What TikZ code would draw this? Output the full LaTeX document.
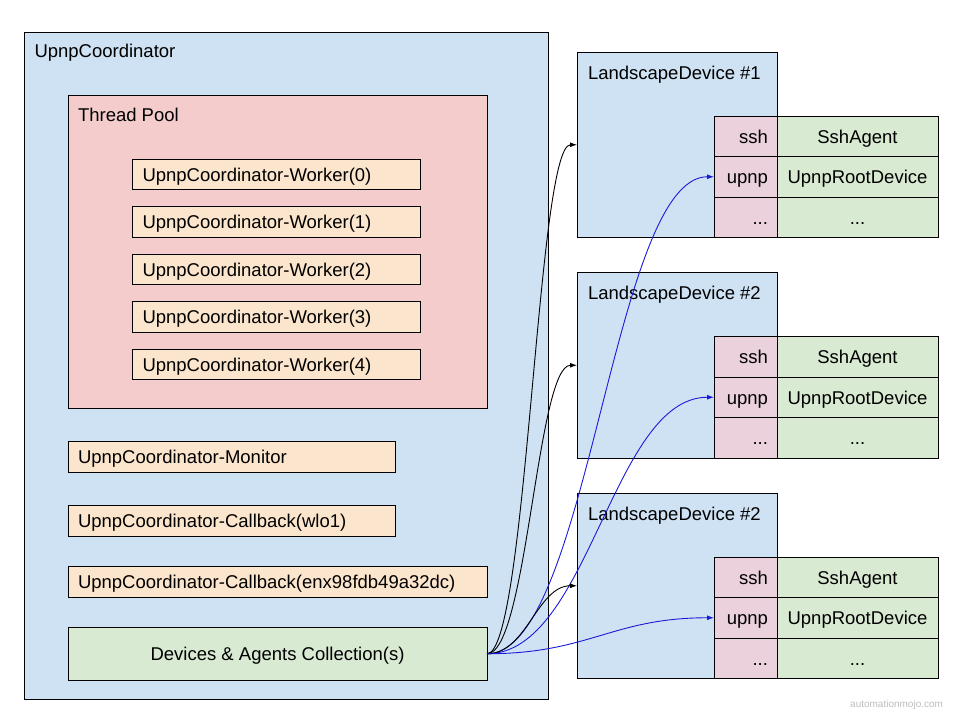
\documentclass[tikz,border=0pt]{standalone}
\usepackage{fontspec}
\setmainfont{Liberation Sans}
\usetikzlibrary{arrows.meta}
\definecolor{coordblue}{HTML}{CFE2F3}
\definecolor{poolred}{HTML}{F4CCCC}
\definecolor{threadorange}{HTML}{FCE5CD}
\definecolor{agentgreen}{HTML}{D9EAD3}
\definecolor{keypink}{HTML}{EAD1DC}
\definecolor{linkblue}{HTML}{1A1AD9}
\definecolor{markgray}{HTML}{BDBDBD}
\begin{document}
\begin{tikzpicture}[x=1pt, y=-1pt, line width=1pt,
        every node/.style={font=\fontsize{18.5}{22}\selectfont, outer sep=0pt},
        frame/.style={draw, anchor=north west, inner sep=0pt},
        title/.style={anchor=base west, inner sep=0pt},
        line/.style={text height=17pt, text depth=3pt},
        thread/.style={draw, fill=threadorange, anchor=north west, line,
            inner xsep=10pt, inner ysep=0pt, minimum height=30.5pt, align=left},
        keycell/.style={draw, fill=keypink, anchor=north west, inner xsep=9pt, line,
            inner ysep=0pt, text width=45pt, minimum height=40.5pt, align=right},
        valcell/.style={draw, fill=agentgreen, anchor=north west, inner xsep=10pt, line,
            inner ysep=0pt, text width=141pt, minimum height=40.5pt, align=center},
        link/.style={-{Latex[length=7pt,width=5pt]}, line width=0.9pt}]
    \useasboundingbox (0,0) rectangle (960,720);

    % coordinator side
    \node[frame, fill=coordblue, minimum width=524pt, minimum height=667pt] (coord) at (24,32) {};
    \node[title] (coordlbl) at (34.5,57.7) {UpnpCoordinator};
    \node[frame, fill=poolred, minimum width=419pt, minimum height=313pt] (pool) at (68,95.5) {};
    \node[title] (poollbl) at (78,121.7) {Thread Pool};
    \foreach \i in {0,...,4}
        \node[thread, text width=268pt] (worker\i) at (132.5,{159+47.5*\i}) {UpnpCoordinator-Worker(\i)};
    \node[thread, text width=307pt] (monitor) at (68,441.5) {UpnpCoordinator-Monitor};
    \node[thread, text width=307pt] (cbwlo) at (68,505.7) {UpnpCoordinator-Callback(wlo1)};
    \node[thread, text width=399pt] (cbenx) at (68,566.5) {UpnpCoordinator-Callback(enx98fdb49a32dc)};
    \node[frame, fill=agentgreen, line, minimum width=419pt, minimum height=53.5pt] (devices) at (68,627) {Devices \& Agents Collection(s)};

    % landscape devices
    \foreach \n/\top/\num in {1/52/1, 2/272.5/2, 3/493/2} {
        \node[frame, fill=coordblue, minimum width=200pt, minimum height=185.5pt] (ld\n) at (577,\top) {};
        \node[title] (ldlbl\n) at (588,{\top+27.3}) {LandscapeDevice \#\num};
        \node[keycell] (ssh\n) at (714,{\top+64}) {ssh};
        \node[keycell] (upnp\n) at (ssh\n.south west) {upnp};
        \node[keycell] (more\n) at (upnp\n.south west) {...};
        \node[valcell] (agent\n) at (ssh\n.north east) {SshAgent};
        \node[valcell] (root\n) at (upnp\n.north east) {UpnpRootDevice};
        \node[valcell] (other\n) at (more\n.north east) {...};
    }

    \foreach \n in {1,2,3} {
        \draw[link] (devices.east) .. controls +(40,0) and +(-40,0) .. (ld\n.west);
        \draw[link, linkblue] (devices.east) .. controls +(102,0) and +(-102,0) .. (upnp\n.west);
    }

    \node[anchor=base east, inner sep=0pt, text=markgray, font=\fontsize{10}{12}\selectfont] (mark) at (943,707) {automationmojo.com};
\end{tikzpicture}
\end{document}
